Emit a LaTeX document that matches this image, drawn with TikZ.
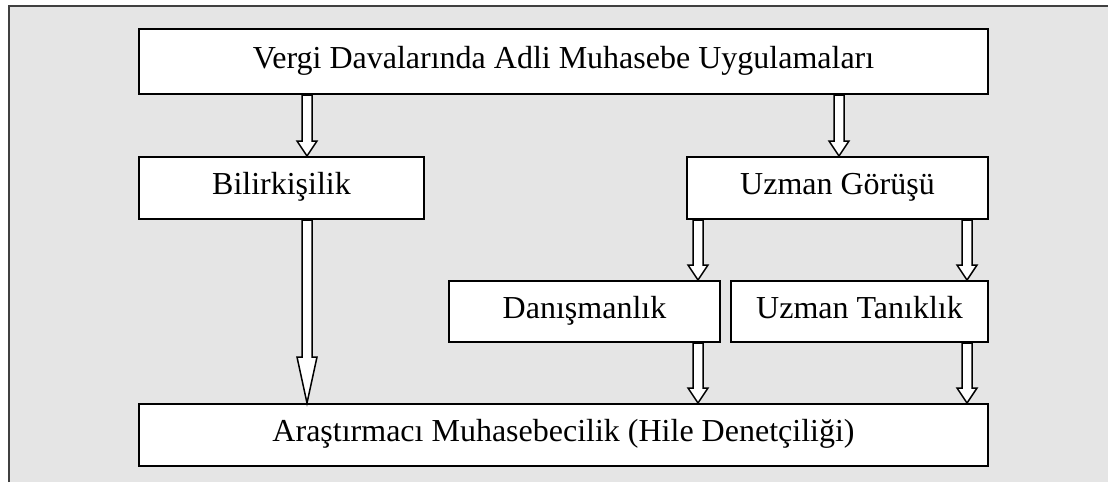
\documentclass[tikz,border=0pt]{standalone}
\usepackage{fontspec}
\setmainfont{Liberation Serif}
\usetikzlibrary{calc}
\definecolor{zemin}{HTML}{E5E5E5}
\definecolor{cerceve}{HTML}{404040}
\tikzset{
	kutu/.style={draw, line width=1pt, fill=white, inner sep=0pt, text height=0.66em, text depth=0pt, font=\fontsize{16}{19}\selectfont},
}
% kalin blok ok: x, nereden, nereye, uc boyu
\newcommand{\kalinok}[4]{%
	\draw[line width=0.75pt, fill=white, line join=miter] let \p1=(#2 -| #1,0), \p2=(#3 -| #1,0) in
		(\x1-2.5pt,\y1) -- (\x1-2.5pt,\y2+#4) -- (\x1-5pt,\y2+#4) -- (\x1,\y2) -- (\x1+5pt,\y2+#4) -- (\x1+2.5pt,\y2+#4) -- (\x1+2.5pt,\y1) -- cycle;}
\begin{document}
\begin{tikzpicture}[x=0.5pt,y=-0.5pt]
	\useasboundingbox (0,0) rectangle (1108,482);
	\fill[zemin] (9,6) rectangle (1108,482);
	\draw[cerceve, line width=1pt] (9,482) -- (9,6) -- (1108,6);
	% kutular
	\node[kutu, minimum width=424.5pt, minimum height=32.5pt] (ust) at (563.5,61.5) {Vergi Davalarında Adli Muhasebe Uygulamaları};
	\node[kutu, minimum width=142.5pt, minimum height=31pt] (bil) at (281.5,188) {Bilirkişilik};
	\node[kutu, minimum width=150.5pt, minimum height=31pt] (gor) at (837.5,188) {Uzman Görüşü};
	\node[kutu, minimum width=135.5pt, minimum height=30.5pt] (dan) at (584.5,311.5) {Danışmanlık};
	\node[kutu, minimum width=128.5pt, minimum height=30.5pt] (tan) at (859.5,311.5) {Uzman Tanıklık};
	\node[kutu, minimum width=424.5pt, minimum height=31pt] (ara) at (563.5,435) {Araştırmacı Muhasebecilik (Hile Denetçiliği)};
	% oklar
	\kalinok{307}{ust.south}{bil.north}{7.5pt}
	\kalinok{839}{ust.south}{gor.north}{7.5pt}
	\kalinok{307}{bil.south}{ara.north}{23pt}
	\kalinok{698}{gor.south}{dan.north}{7.5pt}
	\kalinok{967}{gor.south}{tan.north}{7.5pt}
	\kalinok{698}{dan.south}{ara.north}{7.5pt}
	\kalinok{967}{tan.south}{ara.north}{7.5pt}
\end{tikzpicture}
\end{document}
